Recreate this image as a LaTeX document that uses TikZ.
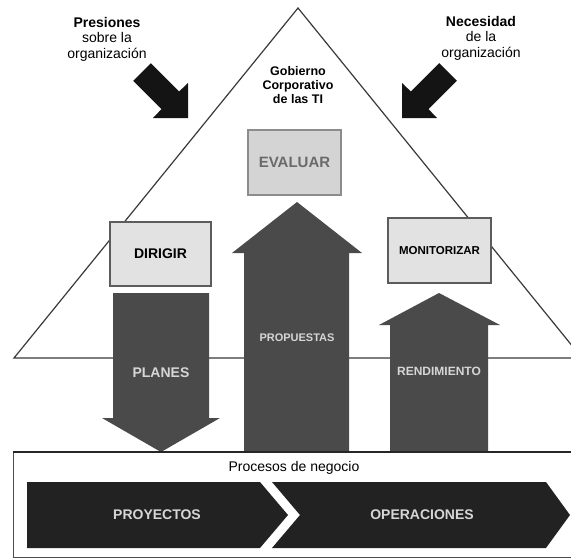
\documentclass[tikz,border=0pt]{standalone}
\usepackage{fontspec}
\setmainfont{Liberation Sans}
\definecolor{bigarrow}{HTML}{4A4A4A}
\definecolor{chev}{HTML}{222222}
\definecolor{boxfill}{HTML}{E2E2E2}
\definecolor{evalfill}{HTML}{D4D4D4}
\definecolor{boxline}{HTML}{5C5C5C}
\definecolor{lighttext}{HTML}{D6D6D6}
\definecolor{evaltext}{HTML}{6A6A6A}
\definecolor{pyramid}{HTML}{3A3A3A}
\begin{document}
\begin{tikzpicture}[x=1pt,y=-1pt,
  txt/.style={inner sep=0pt, align=center},
  f14/.style={font=\fontsize{14}{15.5}\selectfont},
  actbox/.style={draw=boxline, line width=1.3pt, fill=boxfill, inner sep=0pt},
  flow/.style={fill=bigarrow},
  pressure/.style={fill=black!92},
  stage/.style={fill=chev},
  inlabel/.style={txt, text=lighttext, font=\bfseries}
]
\clip (0,0) rectangle (571,560);
\fill[white] (0,0) rectangle (571,560);

% pyramid of IT governance
\draw[pyramid, line width=1.2pt, line join=miter] (298,8) -- (14,358) -- (582,358) -- cycle;

% external pressures
\fill[pressure] (133.2,80.8) -- (150.8,63.2) -- (179.1,91.5) -- (188,83) -- (188,118) -- (153,118) -- (161.5,109.1) -- cycle;
\fill[pressure] (456.8,80.8) -- (439.2,63.2) -- (410.9,91.5) -- (402,83) -- (402,118) -- (437,118) -- (428.5,109.1) -- cycle;

\node[txt, f14] (pres) at (107,39) {\textbf{Presiones}\\sobre la\\organización};
\node[txt, f14] (nec) at (481,38) {\textbf{Necesidad}\\de la\\organización};
\node[txt, font=\fontsize{12.5}{14}\selectfont\bfseries] (gob) at (298,85) {Gobierno\\Corporativo\\de las TI};

% vertical flows
\fill[flow] (113,293) -- (209,293) -- (209,418) -- (220,418) -- (161,452) -- (102,418) -- (113,418) -- cycle;
\fill[flow] (297,202) -- (362,253) -- (349,253) -- (349,452) -- (244,452) -- (244,253) -- (232,253) -- cycle;
\fill[flow] (439,293) -- (500,325) -- (488,325) -- (488,452) -- (390,452) -- (390,325) -- (379,325) -- cycle;

\node[inlabel, font=\fontsize{14}{16}\selectfont\bfseries] (planes) at (161,373) {PLANES};
\node[inlabel, font=\fontsize{11}{13}\selectfont\bfseries] (prop) at (297,338) {PROPUESTAS};
\node[inlabel, font=\fontsize{12}{14}\selectfont\bfseries] (rend) at (439,371) {RENDIMIENTO};

% governance activities
\node[actbox, fill=evalfill, draw=black!45, minimum width=93pt, minimum height=65pt,
      text=evaltext, font=\fontsize{15}{17}\selectfont\bfseries] (eval) at (294.5,162.5) {EVALUAR};
\node[actbox, minimum width=101pt, minimum height=64pt,
      font=\fontsize{14}{16}\selectfont\bfseries] (dir) at (160.5,254) {DIRIGIR};
\node[actbox, minimum width=103pt, minimum height=65pt,
      font=\fontsize{11.5}{13}\selectfont\bfseries] (mon) at (439.5,250.5) {MONITORIZAR};

% business processes
\draw[black!70, line width=0.9pt] (13,452) rectangle (576,557.5);
\draw[black!85, line width=1.8pt] (13,452) -- (576,452);
\node[txt, f14] (proc) at (294,468) {Procesos de negocio};
\fill[stage] (27,482) -- (260,482) -- (288,515) -- (260,548) -- (27,548) -- cycle;
\fill[stage] (272,482) -- (546,482) -- (570,515) -- (546,548) -- (272,548) -- (300,515) -- cycle;
\node[inlabel, font=\fontsize{14}{16}\selectfont\bfseries] (proy) at (157,515) {PROYECTOS};
\node[inlabel, font=\fontsize{14}{16}\selectfont\bfseries] (oper) at (422,515) {OPERACIONES};
\end{tikzpicture}
\end{document}
